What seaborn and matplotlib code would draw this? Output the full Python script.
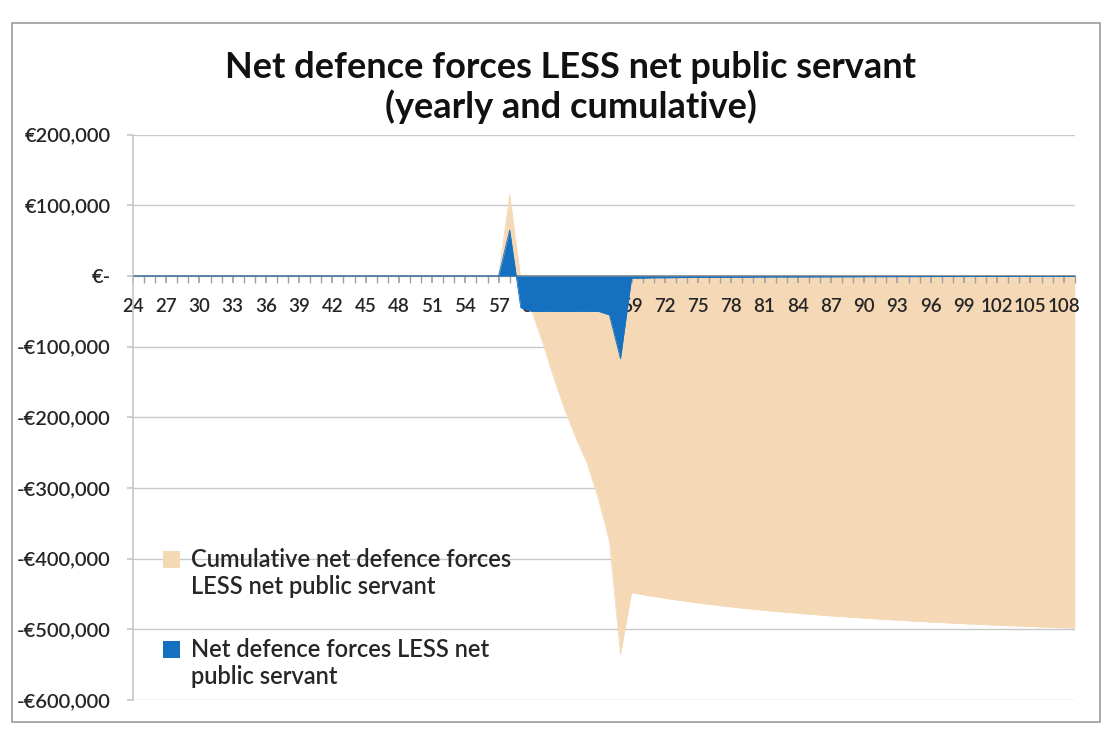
import matplotlib
matplotlib.use("Agg")
import matplotlib.pyplot as plt
from matplotlib.patches import Patch, Rectangle
from matplotlib.legend_handler import HandlerPatch
from matplotlib.ticker import FuncFormatter, MultipleLocator
import seaborn as sns
import pandas as pd

# Age of the member, one category per year
ages = list(range(24, 110))

# Yearly net defence forces LESS net public servant (EUR)
yearly = [
    0, 0, 0, 0, 0, 0, 0, 0, 0, 0,            # 24-33
    0, 0, 0, 0, 0, 0, 0, 0, 0, 0,            # 34-43
    0, 0, 0, 0, 0, 0, 0, 0, 0, 0,            # 44-53
    0, 0, 0, 0, 65000, -45000,               # 54-59
    -50000, -50000, -50000, -50000, -50000,  # 60-64
    -50000, -50000, -55000, -117000, -3000,  # 65-69
    -3000, -2500, -2500, -2300, -2200,       # 70-74
    -2100, -2000, -1900, -1800, -1700,       # 75-79
    -1600, -1500, -1400, -1400, -1300,       # 80-84
    -1300, -1200, -1200, -1100, -1100,       # 85-89
    -1000, -1000, -1000, -900, -900,         # 90-94
    -900, -800, -800, -800, -800,            # 95-99
    -700, -700, -700, -700, -600,            # 100-104
    -600, -600, -600, -600, -500,            # 105-109
]

# Cumulative net defence forces LESS net public servant (EUR)
cumulative = [
    0, 0, 0, 0, 0, 0, 0, 0, 0, 0,                 # 24-33
    0, 0, 0, 0, 0, 0, 0, 0, 0, 0,                 # 34-43
    0, 0, 0, 0, 0, 0, 0, 0, 0, 0,                 # 44-53
    0, 0, 0, 0, 115000, -5000,                    # 54-59
    -50000, -95000, -145000, -190000, -230000,    # 60-64
    -265000, -315000, -375000, -535000, -448000,  # 65-69
    -451000, -453500, -456000, -458300, -460500,  # 70-74
    -462600, -464600, -466500, -468300, -470000,  # 75-79
    -471600, -473100, -474500, -475900, -477200,  # 80-84
    -478500, -479700, -480900, -482000, -483100,  # 85-89
    -484100, -485100, -486100, -487000, -487900,  # 90-94
    -488800, -489600, -490400, -491200, -492000,  # 95-99
    -492700, -493400, -494100, -494800, -495400,  # 100-104
    -496000, -496600, -497200, -497800, -498300,  # 105-109
]

y_ticks = [200000, 100000, 0, -100000, -200000, -300000, -400000, -500000, -600000]
x_tick_ages = list(range(24, 109, 3))

title_lines = ["Net defence forces LESS net public servant", "(yearly and cumulative)"]
cum_label = "Cumulative net defence forces\nLESS net public servant"
yearly_label = "Net defence forces LESS net\npublic servant"

BEIGE = "#F5D8B6"
BLUE = "#1570BF"
TEXT = "#262626"

df = pd.DataFrame({"age": ages, "yearly": yearly, "cumulative": cumulative})

sns.set_theme(style="white")
plt.rcParams["font.family"] = ["Lato", "DejaVu Sans"]

fig = plt.figure(figsize=(11.08, 7.36), dpi=100)
fig.patch.set_facecolor("white")

# chart border
fig.patches.append(Rectangle((0.011, 0.019), 0.982, 0.95, transform=fig.transFigure,
                             fill=False, edgecolor="#9a9a9a", linewidth=1.2))

ax = fig.add_axes([0.120, 0.049, 0.850, 0.768])

# cumulative area (behind the category labels)
ax.fill_between(df["age"], 0, df["cumulative"], color=BEIGE, linewidth=0, zorder=1.5)
sns.lineplot(data=df, x="age", y="cumulative", ax=ax, color=BEIGE, linewidth=0.6,
             zorder=1.5, legend=False)
# yearly area (in front of everything)
ax.fill_between(df["age"], 0, df["yearly"], color=BLUE, linewidth=0, zorder=3)
sns.lineplot(data=df, x="age", y="yearly", ax=ax, color=BLUE, linewidth=0.6,
             zorder=3, legend=False)

ax.set_xlim(24, 109)
ax.set_ylim(-600000, 200000)
ax.set_xlabel("")
ax.set_ylabel("")

def euro(v, pos):
    if abs(v) < 1:
        return "\u20ac-"
    s = f"\u20ac{abs(v):,.0f}"
    return "-" + s if v < 0 else s

ax.set_yticks(y_ticks)
ax.yaxis.set_major_formatter(FuncFormatter(euro))
ax.set_xticks(x_tick_ages)
ax.set_xticklabels([str(a) for a in x_tick_ages])
ax.xaxis.set_minor_locator(MultipleLocator(1))

ax.grid(axis="y", color="#c8c8c8", linewidth=1.0)
ax.grid(axis="x", visible=False)
ax.yaxis.set_zorder(0.5)
ax.xaxis.set_zorder(2)

for side in ("top", "right"):
    ax.spines[side].set_visible(False)
ax.spines["left"].set_color("#c8c8c8")
ax.spines["bottom"].set_position(("data", 0))
ax.spines["bottom"].set_color("#8a8a8a")
ax.spines["bottom"].set_zorder(2.2)

ax.tick_params(axis="y", which="major", length=4, color="#c8c8c8", labelsize=14.5,
               labelcolor=TEXT, pad=12, left=True)
ax.tick_params(axis="x", which="both", length=5, color="#a0a0a0", direction="out",
               bottom=True)
ax.tick_params(axis="x", which="major", labelsize=13.5, labelcolor=TEXT, pad=11)
for lab in ax.get_xticklabels() + ax.get_yticklabels():
    lab.set_fontweight("semibold")

fig.text(0.515, 1 - 68 / 736, title_lines[0], ha="center", va="center", fontsize=26,
         fontweight="bold", color="#111111")
fig.text(0.515, 1 - 107 / 736, title_lines[1], ha="center", va="center", fontsize=26,
         fontweight="bold", color="#111111")


class TopAlignedSquare(HandlerPatch):
    """Legend square aligned with the first line of a two-line label."""
    def create_artists(self, legend, orig_handle, xdescent, ydescent, width, height,
                       fontsize, trans):
        size = 0.72 * fontsize
        rect = Rectangle((-xdescent, -ydescent + 0.62 * fontsize), size, size,
                         facecolor=orig_handle.get_facecolor(), edgecolor="none",
                         transform=trans)
        return [rect]


handles = [Patch(facecolor=BEIGE, edgecolor="none"), Patch(facecolor=BLUE, edgecolor="none")]
leg = fig.legend(handles, [cum_label, yearly_label], loc="upper left",
                 bbox_to_anchor=(163 / 1108, 1 - 548 / 736), borderpad=0,
                 borderaxespad=0, frameon=False, fontsize=17,
                 handlelength=0.72, handleheight=0.72, handletextpad=0.45,
                 labelspacing=1.7, labelcolor=TEXT,
                 handler_map={Patch: TopAlignedSquare()})
for t in leg.get_texts():
    t.set_fontweight("semibold")

fig.savefig("out.png", dpi=100, facecolor="white")
